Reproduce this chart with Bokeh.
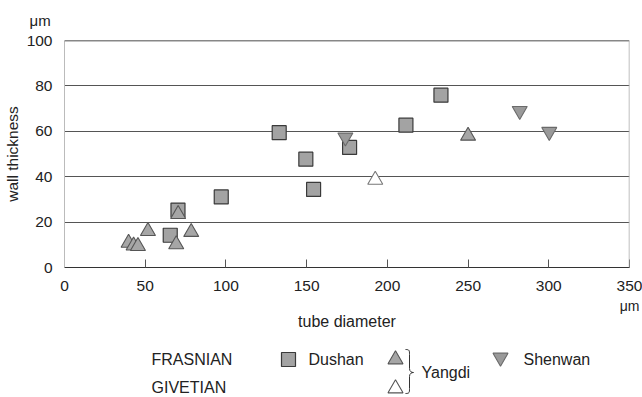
from bokeh.plotting import figure
from bokeh.layouts import column
from bokeh.models import Span, SingleIntervalTicker, FixedTicker, Range1d, LinearAxis
from bokeh.core.properties import value
from bokeh.embed import file_html
from bokeh.resources import INLINE

# ---- data ----
dushan_x = [65.5, 70.3, 97.1, 133.0, 149.5, 154.3, 176.6, 211.5, 233.2]
dushan_y = [14.2, 25.3, 31.1, 59.4, 47.7, 34.4, 52.9, 62.7, 75.9]

yangdi_frasnian_x = [39.7, 42.8, 45.5, 51.7, 69.2, 70.4, 78.5, 250.0]
yangdi_frasnian_y = [10.8, 9.6, 9.4, 16.0, 10.2, 23.5, 15.6, 58.0]

yangdi_givetian_x = [192.5]
yangdi_givetian_y = [38.6]

shenwan_x = [174.0, 282.0, 300.3]
shenwan_y = [57.3, 69.0, 59.8]

x_label = "tube diameter"
y_label = "wall thickness"
unit = "μm"
stage_labels = ["FRASNIAN", "GIVETIAN"]
locality_labels = ["Dushan", "Yangdi", "Shenwan"]

FONT = "Liberation Sans"
TXT = "#222222"

FRAME_L, FRAME_R = 64, 629   # frame edges in pixels (layout only)

# ---- main chart ----
p = figure(width=642, height=335, x_range=Range1d(0, 350), y_range=Range1d(0, 100),
           output_backend="svg", toolbar_location=None,
           min_border_left=FRAME_L, min_border_right=642 - FRAME_R,
           min_border_top=40, min_border_bottom=68)
p.outline_line_color = None
p.background_fill_color = "white"
p.border_fill_color = "white"

p.title.text = unit
p.title.align = "left"
p.title.vertical_align = "top"
p.title.offset = -35
p.title.standoff = 20
p.title.text_font = FONT
p.title.text_font_size = "15px"
p.title.text_font_style = "normal"
p.title.text_color = TXT

p.xgrid.grid_line_color = None
p.ygrid.grid_line_color = "#555555"
p.ygrid.grid_line_width = 1.2

p.xaxis.ticker = SingleIntervalTicker(interval=50)
p.yaxis.ticker = SingleIntervalTicker(interval=20)
p.xaxis.minor_tick_line_color = None
p.yaxis.minor_tick_line_color = None

p.xaxis.axis_line_color = "#333333"
p.xaxis.axis_line_width = 1.2
p.xaxis.major_tick_in = 8
p.xaxis.major_tick_out = 0
p.xaxis.major_tick_line_color = "#555555"
p.xaxis.major_label_standoff = 9

p.yaxis.axis_line_color = "#bbbbbb"
p.yaxis.major_tick_in = 0
p.yaxis.major_tick_out = 0
p.yaxis.major_label_standoff = 8
p.yaxis.axis_label = y_label
p.yaxis.axis_label_standoff = 3

# second bottom axis: unit under the last tick, and the axis title
unit_axis = LinearAxis(ticker=FixedTicker(ticks=[350]),
                       major_label_overrides={350: unit},
                       axis_label=x_label, axis_label_standoff=-4)
unit_axis.axis_line_color = None
unit_axis.major_tick_line_color = None
unit_axis.minor_tick_line_color = None
unit_axis.major_tick_in = 0
unit_axis.major_tick_out = 0
unit_axis.major_label_standoff = 4
p.add_layout(unit_axis, "below")

for ax in (p.xaxis[0], p.yaxis[0], unit_axis):
    ax.major_label_text_font = FONT
    ax.major_label_text_font_size = "15.5px"
    ax.major_label_text_color = TXT
    ax.axis_label_text_font = FONT
    ax.axis_label_text_font_size = "16px"
    ax.axis_label_text_font_style = "normal"
    ax.axis_label_text_color = TXT
p.yaxis.axis_label_text_font_size = "15.5px"
unit_axis.major_label_text_font_size = "14px"

p.add_layout(Span(location=100, dimension="width", line_color="#111111", line_width=1.5))
p.add_layout(Span(location=350, dimension="height", line_color="#aaaaaa", line_width=1.5))

p.scatter(dushan_x, dushan_y, marker="square", size=14,
          fill_color="#a3a3a3", line_color="#3a3a3a", line_width=1.2)
p.scatter(yangdi_frasnian_x, yangdi_frasnian_y, marker="triangle", size=15,
          fill_color="#a6a6a6", line_color="#555555", line_width=1.1)
p.scatter(yangdi_givetian_x, yangdi_givetian_y, marker="triangle", size=15,
          fill_color="white", line_color="#777777", line_width=1.1)
p.scatter(shenwan_x, shenwan_y, marker="inverted_triangle", size=15,
          fill_color="#9a9a9a", line_color="#6a6a6a", line_width=1.1)

# ---- legend panel (x/y in page pixels) ----
leg = figure(width=642, height=62, x_range=Range1d(FRAME_L, FRAME_R), y_range=Range1d(62, 0),
             output_backend="svg", toolbar_location=None,
             min_border_left=FRAME_L, min_border_right=642 - FRAME_R,
             min_border_top=0, min_border_bottom=0)
leg.axis.visible = False
leg.grid.visible = False
leg.outline_line_color = None
leg.border_fill_color = "white"

txt_kw = dict(text_font=value(FONT), text_font_size=value("16px"),
              text_color=TXT, text_baseline="middle", text_align="left")
leg.text(x=[151, 151], y=[24, 52], text=stage_labels, **txt_kw)
leg.text(x=[308, 421, 523], y=[24, 37, 24], text=locality_labels, **txt_kw)

leg.scatter([288], [24], marker="square", size=14,
            fill_color="#a3a3a3", line_color="#3a3a3a", line_width=1.2)
leg.scatter([395], [24], marker="triangle", size=15,
            fill_color="#a6a6a6", line_color="#555555", line_width=1.1)
leg.scatter([395], [53], marker="triangle", size=15,
            fill_color="white", line_color="#555555", line_width=1.1)
leg.scatter([500], [22], marker="inverted_triangle", size=15,
            fill_color="#9a9a9a", line_color="#6a6a6a", line_width=1.1)

# brace "}"
leg.bezier(x0=[405, 409, 413, 409], y0=[14, 33, 37, 53],
           x1=[409, 413, 409, 405], y1=[19, 37, 41, 58],
           cx0=[409, 409, 411, 409], cy0=[14, 36, 37, 57],
           cx1=[409, 411, 409, 409], cy1=[15, 37, 38, 58],
           line_color="#333333", line_width=1)
leg.segment(x0=[409, 409], y0=[19, 41], x1=[409, 409], y1=[33, 53],
            line_color="#333333", line_width=1)

layout = column(p, leg, spacing=0)
open("out.html", "w").write(file_html(layout, INLINE))
